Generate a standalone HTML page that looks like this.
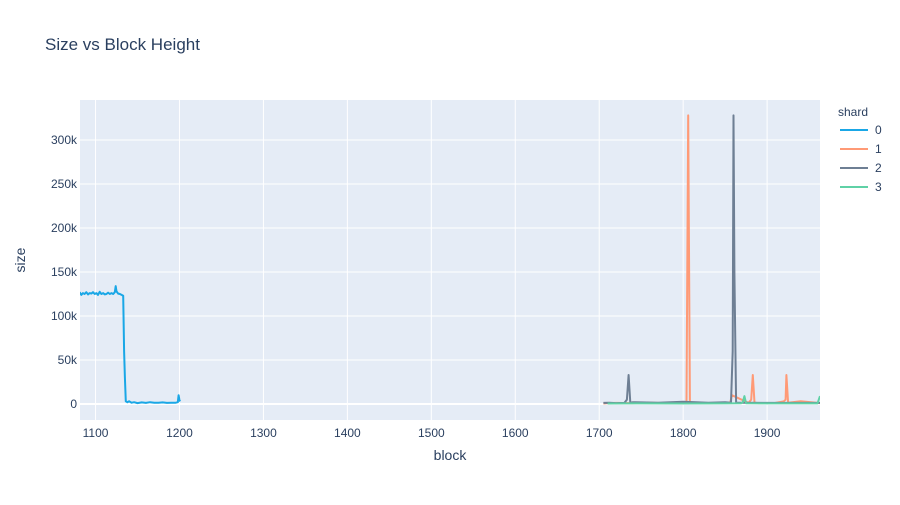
<!DOCTYPE html>
<html><head><meta charset="utf-8"><style>
body{margin:0;background:#fff;font-family:"Liberation Sans",Arial,sans-serif}
svg text{font-family:"Liberation Sans",Arial,sans-serif;fill:#2a3f5f}
</style></head><body>
<svg id="chart" width="900" height="500" xmlns="http://www.w3.org/2000/svg">
<rect width="900" height="500" fill="#fff"/>
<text x="45" y="50" font-size="17">Size vs Block Height</text>
<rect x="80" y="100" width="740" height="320" fill="#e5ecf6"/>
<g id="grid"></g>
<g id="series" clip-path="url(#clip)"></g>
<clipPath id="clip"><rect x="80" y="100" width="740" height="320"/></clipPath>
<g id="ticks"></g>
<text x="450" y="460" font-size="14" text-anchor="middle">block</text>
<text x="25" y="260" font-size="14" text-anchor="middle" transform="rotate(-90 25 260)">size</text>
<g id="legend">
<text x="838" y="116" font-size="12">shard</text>
</g>
</svg>
<script>
const xTicks=[1100,1200,1300,1400,1500,1600,1700,1800,1900];
const yTicks=[0,50000,100000,150000,200000,250000,300000];
const yTickLabels=["0","50k","100k","150k","200k","250k","300k"];
const shardNames=["0","1","2","3"];
const shard0X=[1081,1083,1085,1087,1089,1091,1093,1095,1097,1099,1101,1103,1105,1107,1109,1111,1113,1115,1117,1119,1121,1123,1124,1125,1127,1129,1131,1133,1134,1135,1136,1138,1140,1143,1146,1150,1155,1160,1165,1170,1175,1180,1185,1190,1195,1198,1199,1200,1201];
const shard0Y=[127000,124000,126000,125000,127000,124500,126000,125500,127000,125000,126000,124000,127500,125000,126000,124500,125000,126500,125000,126000,125000,127000,134000,128000,125500,125000,124000,123000,60000,30000,3000,2000,3000,1500,2000,1000,1800,1200,2000,1500,1300,1800,1200,1500,1300,2000,10000,4000,3000];
const shard1X=[1705,1710,1720,1740,1760,1780,1800,1804,1806,1808,1812,1830,1850,1856,1858,1878,1881,1883,1885,1890,1910,1920,1922,1923,1925,1940,1963];
const shard1Y=[500,1000,1200,1000,1500,1000,1200,1500,328000,1500,1200,1000,1500,1200,10000,1200,5000,33000,1500,1000,1200,3000,5000,33000,1500,3000,1000];
const shard2X=[1705,1712,1720,1730,1733,1735,1737,1740,1750,1770,1800,1830,1850,1857,1859,1860,1861,1863,1870,1900,1963];
const shard2Y=[1200,1500,1000,1200,5000,33000,1500,2000,1800,1500,2500,1500,2000,1500,60000,328000,150000,1500,1500,1200,1200];
const shard3X=[1710,1750,1800,1850,1869,1871,1873,1875,1900,1960,1963];
const shard3Y=[600,700,600,700,800,2000,9000,800,700,700,9000];
const colors=["#1aa7e6","#ff9a76","#6e7f94","#5fd1a6"];
const X0=1081.5,X1=1963,Y0=-18200,Y1=345500;
const sx=v=>80+(v-X0)/(X1-X0)*740;
const sy=v=>420-(v-Y0)/(Y1-Y0)*320;
const NS="http://www.w3.org/2000/svg";
function mk(tag,attrs,parent){const e=document.createElementNS(NS,tag);for(const k in attrs)e.setAttribute(k,attrs[k]);parent.appendChild(e);return e;}
const grid=document.getElementById('grid'),ticks=document.getElementById('ticks');
xTicks.forEach(t=>{const l=mk('line',{x1:sx(t),x2:sx(t),y1:100,y2:420,stroke:'#fff','stroke-width':1},grid);


const tx=mk('text',{x:sx(t),y:437,'font-size':12,'text-anchor':'middle'},ticks);tx.textContent=t;

});
yTicks.forEach((t,i)=>{const l=mk('line',{x1:80,x2:820,y1:sy(t),y2:sy(t),stroke:'#fff','stroke-width':t===0?2:1},grid);


const tx=mk('text',{x:77,y:sy(t)+4,'font-size':12,'text-anchor':'end'},ticks);tx.textContent=yTickLabels[i];

});
const series=document.getElementById('series');
const data=[[shard0X,shard0Y],[shard1X,shard1Y],[shard2X,shard2Y],[shard3X,shard3Y]];
data.forEach((d,i)=>{const pts=d[0].map((x,j)=>sx(x).toFixed(1)+','+sy(d[1][j]).toFixed(1)).join(' ');
const p=mk('polyline',{points:pts,fill:'none',stroke:colors[i],'stroke-width':2,'stroke-linejoin':'round'},series);

});
const lg=document.getElementById('legend');
shardNames.forEach((n,i)=>{const y=130+i*19;const g=mk('g',{},lg);


mk('line',{x1:840,x2:868,y1:y,y2:y,stroke:colors[i],'stroke-width':2},g);
const t=mk('text',{x:875,y:y+4,'font-size':12},g);t.textContent=n;});
</script>
</body></html>
